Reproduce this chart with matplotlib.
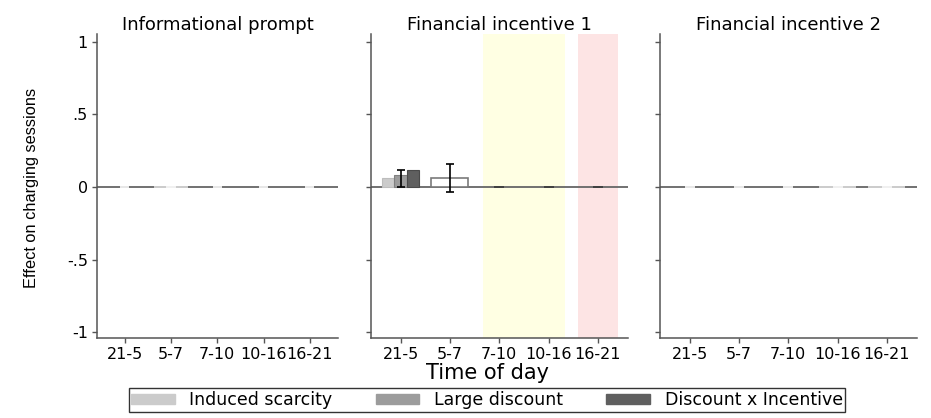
import matplotlib

matplotlib.use('Agg')

import matplotlib.pyplot as plt
import numpy as np
from matplotlib.patches import Patch

# ---- data -------------------------------------------------------------
time_slots = ['21-5', '5-7', '7-10', '10-16', '16-21']
panel_titles = ['Informational prompt', 'Financial incentive 1', 'Financial incentive 2']
series_names = ['Induced scarcity', 'Large discount', 'Discount x Incentive']

# estimates per panel, one value per time slot (0 = nothing visible)
induced_scarcity = [[0, 0, 0, 0, 0],
                    [0.065, 0, 0, 0, 0],
                    [0, 0, 0, 0, 0]]
large_discount = [[0, 0, 0, 0, 0],
                  [0.08, 0, 0, 0, 0],
                  [0, 0, 0, 0, 0]]
discount_x_incentive = [[0, 0, 0, 0, 0],
                        [0.115, 0, 0, 0, 0],
                        [0, 0, 0, 0, 0]]

# wide outlined bars (pooled estimate), nan = not drawn
pooled = [[np.nan, 0, np.nan, np.nan, np.nan],
          [np.nan, 0.065, np.nan, np.nan, np.nan],
          [np.nan, np.nan, np.nan, 0, 0]]

# confidence intervals, nan = none
ci_low = [[np.nan] * 5,
          [0.003, -0.035, np.nan, np.nan, np.nan],
          [np.nan] * 5]
ci_high = [[np.nan] * 5,
           [0.12, 0.16, np.nan, np.nan, np.nan],
           [np.nan] * 5]

# small zero markers on the baseline
zero_marks = [[1, 1, 1, 1, 1],
              [0, 0, 1, 1, 1],
              [1, 1, 1, 1, 1]]

# highlighted time windows in panel 2 (x ranges in slot units)
peak_windows = [(2.68, 4.33), (4.6, 5.4)]

# ---- style ------------------------------------------------------------
series_colors = ['#cbcbcb', '#9c9c9c', '#5f5f5f']
series_edges = ['#bdbdbd', '#808080', '#4a4a4a']
mark_colors = ['#f4f4f4', '#3c3c3c', '#f4f4f4']
window_colors = ['#ffffe3', '#fde4e4']
axis_gray = '#555555'

W, H = 931, 418
ax_px = [(97, 338), (371, 628), (660, 917)]
top_px, bottom_px = 34, 338

plt.rcParams['font.family'] = ['DejaVu Sans']

fig = plt.figure(figsize=(W / 100, H / 100), dpi=100)
x = np.arange(1, len(time_slots) + 1)
bw = 0.25

for p in range(3):
    l, r = ax_px[p]
    ax = fig.add_axes([l / W, (H - bottom_px) / H, (r - l) / W, (bottom_px - top_px) / H])

    if p == 1:
        for (a, b), c in zip(peak_windows, window_colors):
            ax.axvspan(a, b, color=c, lw=0, zorder=0)

    ax.axhline(0, color='#666666', lw=1.3, zorder=1)

    series = [induced_scarcity[p], large_discount[p], discount_x_incentive[p]]
    for k, vals in enumerate(series):
        vals = np.array(vals, dtype=float)
        m = vals != 0
        ax.bar(x[m] + (k - 1) * bw, vals[m], width=bw, color=series_colors[k],
               edgecolor=series_edges[k], lw=0.8, zorder=2)

    pv = np.array(pooled[p], dtype=float)
    for i in range(len(x)):
        if np.isnan(pv[i]):
            continue
        ec = '#7a7a7a' if pv[i] != 0 else '#dedede'
        ax.bar(x[i], pv[i], width=3 * bw, facecolor='white' if pv[i] != 0 else 'none',
               edgecolor=ec, lw=1.2, zorder=2)

    zm = np.array(zero_marks[p], dtype=bool)
    ax.bar(x[zm], np.zeros(zm.sum()), width=0.2, facecolor='none',
           edgecolor=mark_colors[p], lw=1.3, zorder=3)

    lo = np.array(ci_low[p], dtype=float)
    hi = np.array(ci_high[p], dtype=float)
    ok = ~np.isnan(lo)
    if ok.any():
        mid = (lo[ok] + hi[ok]) / 2
        ax.errorbar(x[ok], mid, yerr=[mid - lo[ok], hi[ok] - mid], fmt='none',
                    ecolor='black', elinewidth=1.2, capsize=2.8, capthick=1.2, zorder=4)

    ax.set_xlim(0.4, 5.61)
    ax.set_ylim(-1.041, 1.055)
    ax.set_xticks(x)
    ax.set_xticklabels(time_slots)
    ax.set_yticks([-1, -0.5, 0, 0.5, 1])
    if p == 0:
        ax.set_yticklabels(['-1', '-.5', '0', '.5', '1'])
    else:
        ax.set_yticklabels([])
    for s in ['top', 'right']:
        ax.spines[s].set_visible(False)
    for s in ['left', 'bottom']:
        ax.spines[s].set_color(axis_gray)
        ax.spines[s].set_linewidth(1.1)
    ax.tick_params(colors=axis_gray, labelcolor='black', length=3.6, width=1.0,
                   labelsize=11.5, pad=3)
    ax.set_title(panel_titles[p], fontsize=13, pad=3)

fig.text(32 / W, (H - 188) / H, 'Effect on charging sessions', rotation=90,
         ha='center', va='center', fontsize=11.8, family='Liberation Sans')
fig.text(487 / W, (H - 373) / H, 'Time of day', ha='center', va='center', fontsize=15)

handles = [Patch(facecolor=c, edgecolor=c) for c in series_colors]
leg = fig.legend(handles, series_names, loc='center', bbox_to_anchor=(487 / W, (H - 400) / H),
                 ncol=3, fontsize=12.5, frameon=True, fancybox=False, edgecolor='black',
                 handlelength=2.5, handleheight=0.55, handletextpad=0.85,
                 columnspacing=2.5, borderpad=0.15, borderaxespad=0)
leg.get_frame().set_linewidth(1.0)

fig.savefig('out.png', dpi=100)
